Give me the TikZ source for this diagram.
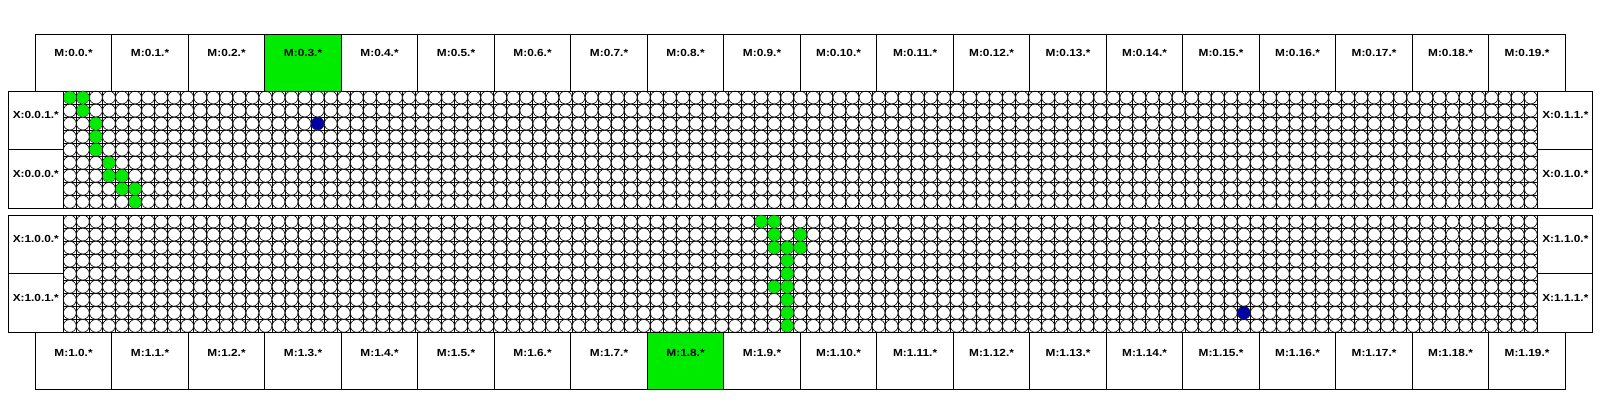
\documentclass[tikz,border=0pt]{standalone}
\usepackage{fontspec}
\setmainfont{Liberation Sans}
\newfontfamily\lblfont{Liberation Sans}[FakeStretch=1.15]
\usepackage{xcolor}
\usepackage{tikz}
\usetikzlibrary{positioning,calc}

\definecolor{hitgreen}{RGB}{0,235,0}
\definecolor{hitblue}{RGB}{0,0,165}

\begin{document}
\begin{tikzpicture}[x=1pt, y=-1pt,
    mbox/.style={rectangle, draw=black, line width=0.9pt, minimum width=76.5pt, minimum height=57pt, inner sep=0pt},
    xbox/.style={rectangle, draw=black, line width=0.9pt, minimum width=55pt, minimum height=58.7pt, inner sep=0pt},
    lbl/.style={font=\lblfont\fontsize{10.3}{12}\selectfont\bfseries, inner sep=0pt},
    cellc/.style={draw=black, line width=0.6pt, fill=white},
    gline/.style={draw=black, line width=1pt},
    frame/.style={draw=black, line width=0.9pt},
    hit/.style={circle, fill=hitgreen, minimum size=12.4pt, inner sep=0pt},
    spot/.style={circle, fill=hitblue, minimum size=12.6pt, inner sep=0pt}
]
    \useasboundingbox (0,0) rectangle (1600,400);

    % Top row of M boxes
    \foreach \i in {0,...,19} {
        \node[mbox] (m0-\i) at ({35.3+38.25+76.5*\i},62.5) {};
        \node[lbl] at ([yshift=9.5pt]m0-\i.center) {M:0.\i.*};
    }
    % Bottom row of M boxes
    \foreach \i in {0,...,19} {
        \node[mbox] (m1-\i) at ({35.3+38.25+76.5*\i},361) {};
        \node[lbl] at ([yshift=8pt]m1-\i.center) {M:1.\i.*};
    }
    % active ones
    \node[mbox, fill=hitgreen] at (m0-3) {};
    \node[lbl] at ([yshift=9.5pt]m0-3.center) {M:0.3.*};
    \node[mbox, fill=hitgreen] at (m1-8) {};
    \node[lbl] at ([yshift=8pt]m1-8.center) {M:1.8.*};

    % Two grids of cells
    \foreach \top in {91,215} {
        \foreach \c in {0,...,113}
            \draw[gline] ({63.3+13.044*\c},\top) -- ({63.3+13.044*\c},{\top+117.4});
        \foreach \r in {0,...,9}
            \draw[gline] (63.3,{\top+13.044*\r}) -- (1537.3,{\top+13.044*\r});
        \foreach \r in {0,...,8}
            \foreach \c in {0,...,112}
                \draw[cellc] ({63.3+(\c+0.5)*13.044},{\top+(\r+0.5)*13.044}) circle[radius=6.4];
        \draw[frame] (63.3,\top) rectangle (1537.3,{\top+117.4});
    }

    % Path in upper grid
    \foreach \c/\r in {0/0,1/0,1/1,2/2,2/3,2/4,3/5,3/6,4/6,4/7,5/7,5/8}
        \node[hit] (g0-\c-\r) at ({63.3+(\c+0.5)*13.044},{91+(\r+0.5)*13.044}) {};
    \node[spot] (b0) at ({63.3+19.5*13.044},{91+2.5*13.044}) {};

    % Path in lower grid
    \foreach \c/\r in {53/0,54/0,54/1,56/1,54/2,55/2,56/2,55/3,55/4,54/5,55/5,55/6,55/7,55/8}
        \node[hit] (g1-\c-\r) at ({63.3+(\c+0.5)*13.044},{215+(\r+0.5)*13.044}) {};
    \node[spot] (b1) at ({63.3+90.5*13.044},{215+7.5*13.044}) {};

    % X boxes, left side
    \node[xbox] (x001) at (35.8,120.35) {};
    \node[xbox] (x000) at (35.8,179.05) {};
    \node[xbox] (x100) at (35.8,244.35) {};
    \node[xbox] (x101) at (35.8,303.05) {};
    % X boxes, right side
    \node[xbox] (x011) at (1565.3,120.35) {};
    \node[xbox] (x010) at (1565.3,179.05) {};
    \node[xbox] (x110) at (1565.3,244.35) {};
    \node[xbox] (x111) at (1565.3,303.05) {};

    \foreach \n/\t in {x001/X:0.0.1.*, x000/X:0.0.0.*, x100/X:1.0.0.*, x101/X:1.0.1.*,
                       x011/X:0.1.1.*, x010/X:0.1.0.*, x110/X:1.1.0.*, x111/X:1.1.1.*}
        \node[lbl] at ([yshift=5.5pt]\n.center) {\t};
\end{tikzpicture}
\end{document}
